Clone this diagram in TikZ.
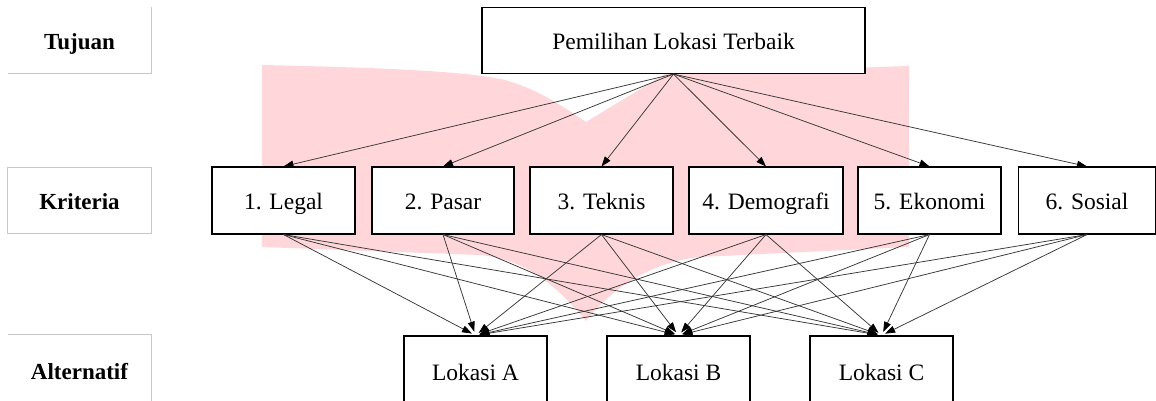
\documentclass[tikz,border=0pt]{standalone}
\usepackage{fontspec}
\setmainfont{Liberation Serif}
\usetikzlibrary{arrows.meta}
\definecolor{pinkbg}{RGB}{255,215,218}
\definecolor{lblline}{RGB}{200,200,200}
\definecolor{edgecol}{RGB}{55,55,55}
\begin{document}
\begin{tikzpicture}[x=1pt,y=-1pt,
  box/.style={draw=black,line width=1.1pt,fill=white,minimum height=66pt,inner sep=0pt,text height=20pt,text depth=2pt,font=\fontsize{23.5}{27}\selectfont},
  labnode/.style={minimum width=143pt,minimum height=66pt,inner sep=0pt,text height=20pt,text depth=2pt,font=\fontsize{23}{27}\selectfont\bfseries},
  labline/.style={draw=lblline,line width=0.8pt},
  conn/.style={draw=edgecol,line width=0.75pt,-{Triangle[length=10pt,width=7pt,black]}}]
\useasboundingbox (0,0) rectangle (1156,400);
\clip (0,0) rectangle (1156,400);
% pink background shape
\fill[pinkbg] (262,65) .. controls (400,68) and (470,72) .. (505,80)
  .. controls (540,90) and (565,108) .. (586,122) -- (665,74) -- (909,66)
  -- (909,247) -- (700,257) .. controls (650,262) and (610,290) .. (586,321)
  .. controls (560,290) and (530,260) .. (480,255) -- (262,247) -- cycle;
% level labels
\node[labnode] (tj) at (79.5,40) {Tujuan};
\node[labnode] (kr) at (79.5,200.5) {Kriteria};
\node[labnode,minimum height=70pt] (al) at (79.5,370) {Alternatif};
\draw[labline] (tj.south west) -- (tj.south east) -- (tj.north east);
\draw[labline] (kr.south west) rectangle (kr.north east);
\draw[labline] (al.south east) -- (al.north east) -- (al.north west);
% goal
\node[box,minimum width=383pt] (g) at (673.5,40.5) {Pemilihan Lokasi Terbaik};
% criteria
\node[box,minimum width=143pt,minimum height=67pt] (c1) at (283.5,200.5) {1. Legal};
\node[box,minimum width=142pt,minimum height=67pt] (c2) at (443,200.5) {2. Pasar};
\node[box,minimum width=143pt,minimum height=67pt] (c3) at (601.5,200.5) {3. Teknis};
\node[box,minimum width=154pt,minimum height=67pt] (c4) at (766,200.5) {4. Demografi};
\node[box,minimum width=143pt,minimum height=67pt] (c5) at (929.5,200.5) {5. Ekonomi};
\node[box,minimum width=137pt,minimum height=67pt] (c6) at (1087,200.5) {6. Sosial};
% alternatives
\node[box,minimum width=143pt,minimum height=70pt] (A) at (475.5,371) {Lokasi A};
\node[box,minimum width=143pt,minimum height=70pt] (B) at (678.5,371) {Lokasi B};
\node[box,minimum width=143pt,minimum height=70pt] (C) at (881.5,371) {Lokasi C};
% connectors
\foreach \c in {c1,c2,c3,c4,c5,c6}
  \draw[conn] (g.south) -- (\c.north);
\foreach \c in {c1,c2,c3,c4,c5,c6}
  \foreach \a in {A,B,C}
    \draw[conn,shorten >=4pt] (\c.south) -- (\a.north);
\end{tikzpicture}
\end{document}
